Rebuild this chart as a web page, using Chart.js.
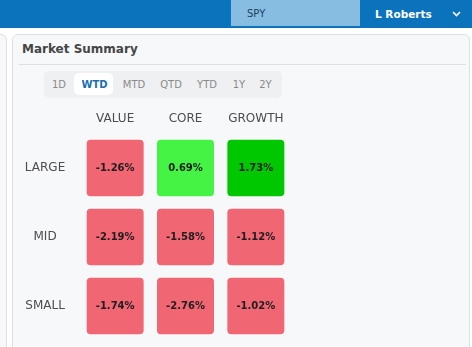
<!DOCTYPE html>
<html>
<head>
<meta charset="utf-8">
<script src="https://cdn.jsdelivr.net/npm/chart.js@4.4.1/dist/chart.umd.min.js"></script>
<style>
  html, body { margin: 0; padding: 0; background: #fff; }
  body { width: 472px; height: 347px; position: relative; overflow: hidden; font-family: "DejaVu Sans", sans-serif; }
  .topbar { position: absolute; left: 0; top: 0; width: 472px; height: 28px; background: #0b73bc; }
  .ticker { position: absolute; left: 231px; top: 0; width: 129px; height: 26px; background: #87bde1; }
  .ticker span { position: absolute; left: 16px; top: 0; line-height: 28px; font-size: 10px; color: #1e3d5c; }
  .user { position: absolute; left: 375px; top: 0; line-height: 28px; font-size: 10.5px; font-weight: bold; color: #fff; }
  .chev { position: absolute; left: 452px; top: 11px; }
  .side { position: absolute; left: -12px; top: 34px; width: 17px; height: 340px; border: 1px solid #dcdfe3; border-radius: 6px; background: #f7f8fa; }
  .panel { position: absolute; left: 12px; top: 34px; width: 456px; height: 340px; border: 1px solid #dcdfe3; border-radius: 6px; background: #f7f8fa; }
  .title { position: absolute; left: 22px; top: 40px; line-height: 19px; font-size: 12px; font-weight: bold; color: #454545; }
  .rule { position: absolute; left: 19px; top: 64px; width: 447px; height: 1px; background: #dedfe1; }
  .tabs { position: absolute; left: 44px; top: 71px; width: 238px; height: 27px; background: #eef0f2; border-radius: 5px; }
  .tab-on { position: absolute; left: 74px; top: 73px; width: 39px; height: 22px; background: #fff; border-radius: 5px; }
  .tab { position: absolute; top: 77px; line-height: 16px; font-size: 10px; color: #8a8a8a; transform: translateX(-50%); }
  .tab.on { font-weight: bold; color: #1b6fb1; }
  #wrap { position: absolute; left: 16px; top: 100px; width: 300px; height: 245px; }
</style>
</head>
<body>
<div class="topbar">
  <div class="ticker"><span>SPY</span></div>
  <div class="user">L Roberts</div>
  <svg class="chev" width="9" height="6"><polyline points="1,1 4.5,4.5 8,1" fill="none" stroke="#fff" stroke-width="1.6"/></svg>
</div>
<div class="side"></div>
<div class="panel"></div>
<div class="title">Market Summary</div>
<div class="rule"></div>
<div class="tabs"></div>
<div class="tab-on"></div>
<div id="tabrow"></div>
<div id="wrap"><canvas id="heat"></canvas></div>
<script>
  // style boxes (columns) and market cap rows
  var columns = ['VALUE', 'CORE', 'GROWTH'];
  var rows = ['LARGE', 'MID', 'SMALL'];
  var largeReturns = [-1.26, 0.69, 1.73];
  var midReturns = [-2.19, -1.58, -1.12];
  var smallReturns = [-1.74, -2.76, -1.02];
  var periods = ['1D', 'WTD', 'MTD', 'QTD', 'YTD', '1Y', '2Y'];
  var activePeriod = 'WTD';

  var tabX = [59, 94.5, 134, 171, 207, 239, 265.5];
  var tabRow = document.getElementById('tabrow');
  periods.forEach(function(p, i) {
    var s = document.createElement('span');
    s.className = 'tab' + (p === activePeriod ? ' on' : '');
    s.style.left = tabX[i] + 'px';
    s.textContent = p;
    tabRow.appendChild(s);
  });

  function cellColor(v) {
    if (v < 0) return '#f06673';
    if (v < 1) return '#45f345';
    return '#00c800';
  }

  var rowReturns = [largeReturns, midReturns, smallReturns];
  var inset = 0.09;

  // one floating bar per cell, each row a dataset stacked on the same columns
  var datasets = rowReturns.map(function(vals, r) {
    return {
      label: rows[r],
      data: vals.map(function() { return [r + inset, r + 1 - inset]; }),
      returns: vals,
      backgroundColor: vals.map(cellColor),
      borderRadius: 4,
      borderSkipped: false,
      categoryPercentage: 1,
      barPercentage: 0.81,
      grouped: false
    };
  });

  // percent text in the middle of each cell
  var cellText = {
    id: 'cellText',
    afterDatasetsDraw: function(chart) {
      var ctx = chart.ctx;
      ctx.save();
      ctx.font = 'bold 10px "DejaVu Sans"';
      ctx.fillStyle = '#1e1e1e';
      ctx.textAlign = 'center';
      ctx.textBaseline = 'middle';
      chart.data.datasets.forEach(function(ds, di) {
        chart.getDatasetMeta(di).data.forEach(function(bar, i) {
          var c = bar.getCenterPoint();
          ctx.fillText(ds.returns[i].toFixed(2) + '%', c.x, c.y + 0.5);
        });
      });
      ctx.restore();
    }
  };

  new Chart(document.getElementById('heat'), {
    type: 'bar',
    data: { labels: columns, datasets: datasets },
    options: {
      responsive: true,
      maintainAspectRatio: false,
      animation: false,
      events: [],
      layout: { padding: { left: 0, right: 25, top: 0, bottom: 4.5 } },
      plugins: { legend: { display: false }, tooltip: { enabled: false } },
      scales: {
        x: {
          position: 'top',
          grid: { display: false, drawTicks: false },
          border: { display: false },
          ticks: { color: '#4d4d4d', font: { family: 'DejaVu Sans', size: 12 }, padding: 7.5 },
          afterFit: function(scale) { scale.height = 33.5; }
        },
        y: {
          min: 0,
          max: 3,
          reverse: true,
          grid: { display: false, drawTicks: false },
          border: { display: false },
          afterBuildTicks: function(scale) {
            scale.ticks = rows.map(function(_, i) { return { value: i + 0.5 }; });
          },
          ticks: {
            color: '#4d4d4d',
            font: { family: 'DejaVu Sans', size: 12 },
            crossAlign: 'center',
            padding: 14.75,
            callback: function(value, index) { return rows[index]; }
          },
          afterFit: function(scale) {
            scale.width = 64;
            scale.paddingTop = 0;
            scale.paddingBottom = 0;
          }
        }
      }
    },
    plugins: [cellText]
  });
</script>
</body>
</html>
